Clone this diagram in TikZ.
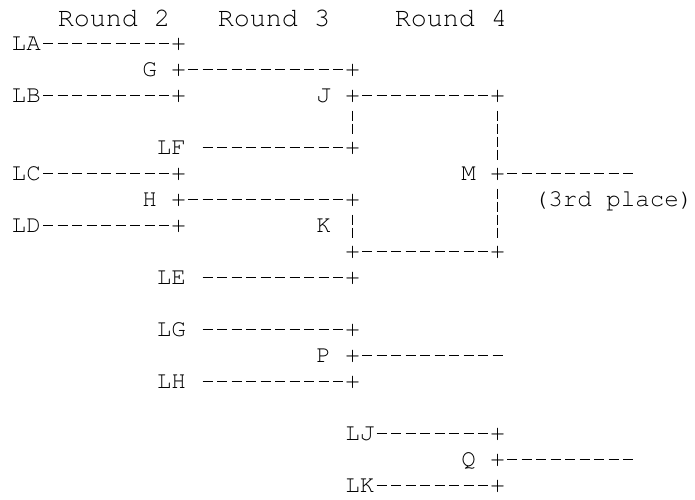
\documentclass[tikz,border=0pt]{standalone}
\usepackage{fontspec}
\newfontfamily\brkfam{TeX Gyre Cursor}
\usetikzlibrary{calc}

\newcommand{\brkfont}{\brkfam\fontsize{24.17}{26}\selectfont}
\newcommand{\hdrfont}{\brkfam\fontsize{26.75}{28}\selectfont}

\begin{document}
\begin{tikzpicture}[
    x=14.5pt, y=26pt,
    every node/.style={inner sep=0pt, outer sep=0pt, anchor=base west, font=\brkfont, text height=18.4pt, text depth=6pt},
    hdr/.style={font=\hdrfont},
    hdash/.style={line width=1.2pt, dash pattern=on 10pt off 4.5pt, dash phase=12.25pt},
    vbar/.style={line width=1.2pt, dash pattern=on 10.5pt off 2.5pt, dash phase=10.5pt}
]
\useasboundingbox (-11.75pt,24pt) rectangle (683.25pt,-475pt);

% ---- headers ----
\node[hdr] (rnd2) at (46pt,-2pt) {Round 2};
\node[hdr] (rnd3) at (206pt,-2pt) {Round 3};
\node[hdr] (rnd4) at (383pt,-2pt) {Round 4};

% ---- Round 2 ----
\node (la) at (0,-1) {LA};
\node (pa) at (11,-1) {+};
\node (g) at (9,-2) {G};
\node (pg) at (11,-2) {+};
\node (lb) at (0,-3) {LB};
\node (pb) at (11,-3) {+};
\node (lc) at (0,-6) {LC};
\node (pc) at (11,-6) {+};
\node (h) at (9,-7) {H};
\node (ph) at (11,-7) {+};
\node (ld) at (0,-8) {LD};
\node (pd) at (11,-8) {+};
\draw[hdash] (la.east)--(pa.west); \draw[hdash] (lb.east)--(pb.west);
\draw[hdash] (lc.east)--(pc.west); \draw[hdash] (ld.east)--(pd.west);

% ---- Round 3 ----
\node (pg2) at (23,-2) {+};
\node (j) at (21,-3) {J};
\node (pj) at (23,-3) {+};
\node (lf) at (10,-5) {LF};
\node (pf) at (23,-5) {+};
\node (ph2) at (23,-7) {+};
\node (k) at (21,-8) {K};
\node (pk) at (23,-9) {+};
\node (le) at (10,-10) {LE};
\node (pe) at (23,-10) {+};
\node (lg) at (10,-12) {LG};
\node (pl) at (23,-12) {+};
\node (p) at (21,-13) {P};
\node (pp) at (23,-13) {+};
\node (lh) at (10,-14) {LH};
\node (pn) at (23,-14) {+};
\coordinate (pout) at ($(pp.east)+(10,0)$);
\draw[hdash] (pg.east)--(pg2.west); \draw[hdash] (ph.east)--(ph2.west);
\draw[hdash] ([xshift=14.5pt]lf.east)--(pf.west); \draw[hdash] ([xshift=14.5pt]le.east)--(pe.west);
\draw[hdash] ([xshift=14.5pt]lg.east)--(pl.west); \draw[hdash] ([xshift=14.5pt]lh.east)--(pn.west);
\draw[hdash] (pp.east)--(pout);
\draw[vbar] (pj.south)--(pf.north); \draw[vbar] (ph2.south)--(pk.north);

% ---- Round 4 ----
\node (pj2) at (33,-3) {+};
\node (m) at (31,-6) {M};
\node (pm) at (33,-6) {+};
\node (third) at (36,-7) {(3rd place)};
\node (pk2) at (33,-9) {+};
\node (lj) at (23,-16) {LJ};
\node (pq1) at (33,-16) {+};
\node (q) at (31,-17) {Q};
\node (pq) at (33,-17) {+};
\node (lk) at (23,-18) {LK};
\node (pq2) at (33,-18) {+};
\coordinate (mout) at ($(pm.east)+(9,0)$);
\coordinate (qout) at ($(pq.east)+(9,0)$);
\draw[hdash] (pj.east)--(pj2.west); \draw[hdash] (pk.east)--(pk2.west);
\draw[hdash] (pm.east)--(mout); \draw[hdash] (pq.east)--(qout);
\draw[hdash] (lj.east)--(pq1.west); \draw[hdash] (lk.east)--(pq2.west);
\draw[vbar] (pj2.south)--(pm.north); \draw[vbar] (pm.south)--(pk2.north);
\end{tikzpicture}
\end{document}
